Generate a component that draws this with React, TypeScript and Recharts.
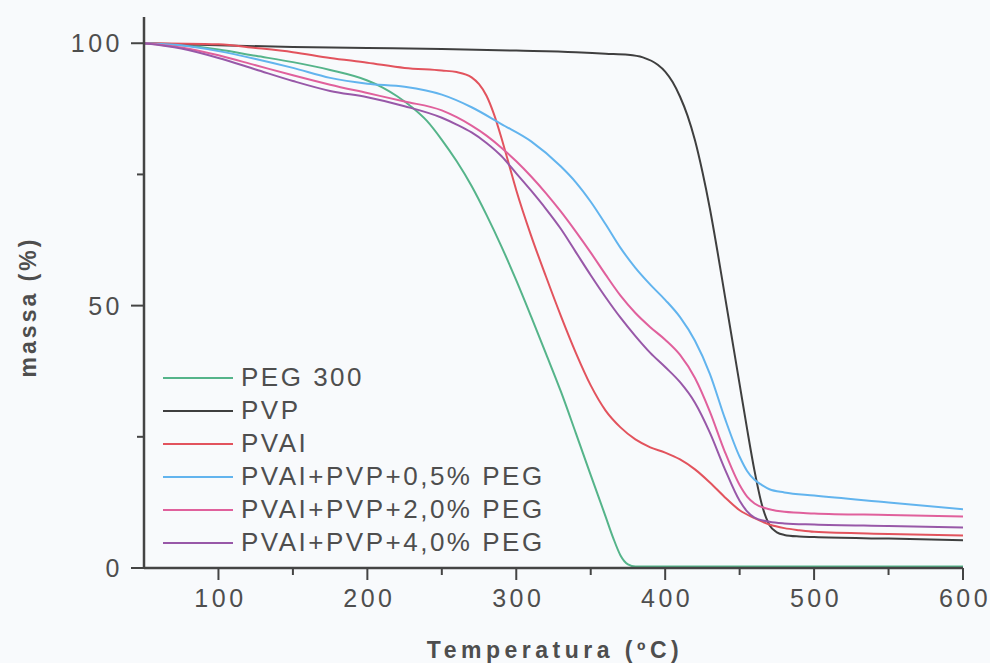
import React from "react";
import { LineChart, Line, XAxis, YAxis } from "recharts";

// temperatures (ºC) and remaining mass (%)
const pegT = [50, 75, 100, 125, 150, 175, 200, 210, 220, 230, 240, 250, 260, 270, 280, 290, 300, 310, 320, 330, 340, 350, 360, 365, 370, 375, 380, 450, 525, 600];
const pegM = [100, 99.6, 98.8, 97.6, 96.4, 94.9, 92.9, 91.6, 89.9, 87.8, 85.2, 81.6, 77.5, 72.8, 67.3, 61.3, 54.8, 47.9, 40.8, 33.6, 25.7, 17.7, 9.8, 5.8, 2.4, 0.7, 0.3, 0.3, 0.3, 0.3];

const pvpT = [50, 100, 150, 200, 250, 300, 340, 360, 375, 385, 395, 400, 405, 410, 415, 420, 425, 430, 435, 440, 445, 450, 455, 460, 465, 470, 475, 480, 490, 500, 550, 600];
const pvpM = [100, 99.6, 99.3, 99.1, 98.9, 98.6, 98.3, 98.0, 97.8, 97.3, 95.9, 94.6, 92.6, 89.8, 86.2, 81.5, 75.5, 68.5, 60.5, 52, 43.5, 35, 26.5, 18.5, 12, 8.2, 6.8, 6.3, 6.0, 5.9, 5.6, 5.3];

const pvaT = [50, 100, 125, 150, 175, 200, 225, 250, 260, 270, 275, 280, 285, 290, 295, 300, 310, 320, 330, 340, 350, 360, 370, 380, 390, 400, 410, 420, 430, 440, 450, 460, 470, 480, 490, 500, 550, 600];
const pvaM = [100, 99.8, 99.1, 98.3, 97.2, 96.3, 95.3, 94.8, 94.5, 93.5, 92.2, 90, 86.5, 82, 77, 72, 63.3, 55.5, 48, 41, 34.8, 30, 26.8, 24.5, 23, 22, 20.7, 18.8, 16.3, 13.5, 11, 9.5, 8.3, 7.6, 7.2, 6.9, 6.5, 6.2];

const mix05T = [50, 75, 100, 125, 150, 175, 200, 225, 250, 270, 290, 310, 330, 340, 350, 360, 370, 380, 390, 400, 410, 420, 430, 440, 450, 455, 460, 465, 470, 480, 500, 550, 600];
const mix05M = [100, 99.6, 98.5, 97, 95.3, 93.4, 92.3, 91.7, 90.2, 87.8, 84.6, 81.3, 76.5, 73.5, 69.8, 65.5, 61, 57.2, 54, 51.1, 47.8, 43.3, 37, 28.6, 21.2, 18.5, 16.8, 15.8, 15, 14.4, 13.8, 12.5, 11.2];

const mix20T = [50, 75, 100, 125, 150, 175, 200, 225, 250, 260, 270, 280, 290, 300, 310, 320, 330, 340, 350, 360, 370, 380, 390, 400, 410, 420, 430, 440, 450, 455, 460, 470, 480, 500, 550, 600];
const mix20M = [100, 99.2, 97.7, 95.8, 93.9, 92.1, 90.5, 88.9, 87.2, 85.9, 84.3, 82.4, 80.1, 77.5, 74.6, 71.4, 67.9, 64.1, 60.1, 55.9, 51.9, 48.6, 45.9, 43.5, 40.6, 36.2, 29.8, 22.2, 15.8, 13.6, 12.3, 11.2, 10.7, 10.4, 10.1, 9.8];

const mix40T = [50, 75, 100, 125, 150, 175, 200, 225, 250, 260, 270, 280, 290, 300, 310, 320, 330, 340, 350, 360, 370, 380, 390, 400, 410, 420, 430, 440, 450, 455, 460, 470, 480, 500, 550, 600];
const mix40M = [100, 99, 97.2, 95, 92.8, 90.9, 89.7, 88, 85.8, 84.5, 83, 81, 78.5, 75.2, 71.9, 68.4, 64.6, 60.2, 55.8, 51.6, 47.7, 44.2, 41, 38.3, 35.4, 31.5, 25.8, 18.9, 12.8, 10.8, 9.6, 8.8, 8.5, 8.3, 8, 7.7];

const xTicks = [100, 150, 200, 250, 300, 350, 400, 450, 500, 550, 600];
const yTicks = [0, 25, 50, 75, 100];

const toRows = (ts: number[], ms: number[]) => ts.map((t, i) => ({ t, m: ms[i] }));

const series = [
  { name: "PEG 300", color: "#55b48a", data: toRows(pegT, pegM) },
  { name: "PVP", color: "#3f3f3f", data: toRows(pvpT, pvpM) },
  { name: "PVAI", color: "#e2535d", data: toRows(pvaT, pvaM) },
  { name: "PVAI+PVP+0,5% PEG", color: "#62b4ee", data: toRows(mix05T, mix05M) },
  { name: "PVAI+PVP+2,0% PEG", color: "#e0609c", data: toRows(mix20T, mix20M) },
  { name: "PVAI+PVP+4,0% PEG", color: "#9858a8", data: toRows(mix40T, mix40M) },
];

const axisColor = "#444";
const textColor = "#4e4e4e";
const font = "'Liberation Sans', Arial, sans-serif";

const XTick = (props: any) => {
  const { x, y, payload } = props;
  const major = payload.value % 100 === 0;
  return (
    <g>
      <line x1={x} y1={y} x2={x} y2={y + (major ? 12 : 7)} stroke={axisColor} strokeWidth={2} />
      {major && (
        <text x={x + 2} y={y + 39} textAnchor="middle" fill={textColor} fontSize={25} fontFamily={font} letterSpacing={3.5}>
          {payload.value}
        </text>
      )}
    </g>
  );
};

const YTick = (props: any) => {
  const { x, y, payload } = props;
  const major = payload.value % 50 === 0;
  return (
    <g>
      <line x1={x} y1={y} x2={x - (major ? 13 : 7)} y2={y} stroke={axisColor} strokeWidth={2} />
      {major && (
        <text x={x - 21} y={y + 9} textAnchor="end" fill={textColor} fontSize={25} fontFamily={font} letterSpacing={3.5}>
          {payload.value}
        </text>
      )}
    </g>
  );
};

export default function App() {
  return (
    <div style={{ position: "absolute", left: 0, top: 0, width: 990, height: 663, background: "#f8fafc", fontFamily: font }}>
      <LineChart width={990} height={663} margin={{ top: 17, right: 27, left: 0, bottom: 0 }}>
        <XAxis
          dataKey="t"
          type="number"
          domain={[50, 600]}
          ticks={xTicks}
          allowDataOverflow
          height={95}
          tickSize={0}
          tickMargin={0}
          tickLine={false}
          axisLine={{ stroke: axisColor, strokeWidth: 2.5 }}
          tick={<XTick />}
        />
        <YAxis
          type="number"
          domain={[0, 105]}
          ticks={yTicks}
          allowDataOverflow
          width={144}
          tickSize={0}
          tickMargin={0}
          tickLine={false}
          axisLine={{ stroke: axisColor, strokeWidth: 2.5 }}
          tick={<YTick />}
        />
        {series.map((s) => (
          <Line
            key={s.name}
            data={s.data}
            dataKey="m"
            name={s.name}
            type="monotone"
            stroke={s.color}
            strokeWidth={2}
            dot={false}
            isAnimationActive={false}
          />
        ))}
      </LineChart>

      <div style={{ position: "absolute", left: 163, top: 361 }}>
        {series.map((s) => (
          <div key={s.name} style={{ display: "flex", alignItems: "center", height: 33 }}>
            <div style={{ width: 70, height: 2, background: s.color, marginRight: 8 }} />
            <span style={{ fontSize: 26, color: textColor, letterSpacing: 2.5, whiteSpace: "nowrap" }}>{s.name}</span>
          </div>
        ))}
      </div>

      <div
        style={{
          position: "absolute",
          left: 28,
          top: 307,
          transform: "translate(-50%, -50%) rotate(-90deg)",
          fontSize: 23,
          fontWeight: "bold",
          color: textColor,
          letterSpacing: 3,
          whiteSpace: "nowrap",
        }}
      >
        massa (%)
      </div>
      <div
        style={{
          position: "absolute",
          left: 555,
          top: 650,
          transform: "translate(-50%, -50%)",
          fontSize: 23,
          fontWeight: "bold",
          color: textColor,
          letterSpacing: 4.5,
          whiteSpace: "nowrap",
        }}
      >
        Temperatura (ºC)
      </div>
    </div>
  );
}
